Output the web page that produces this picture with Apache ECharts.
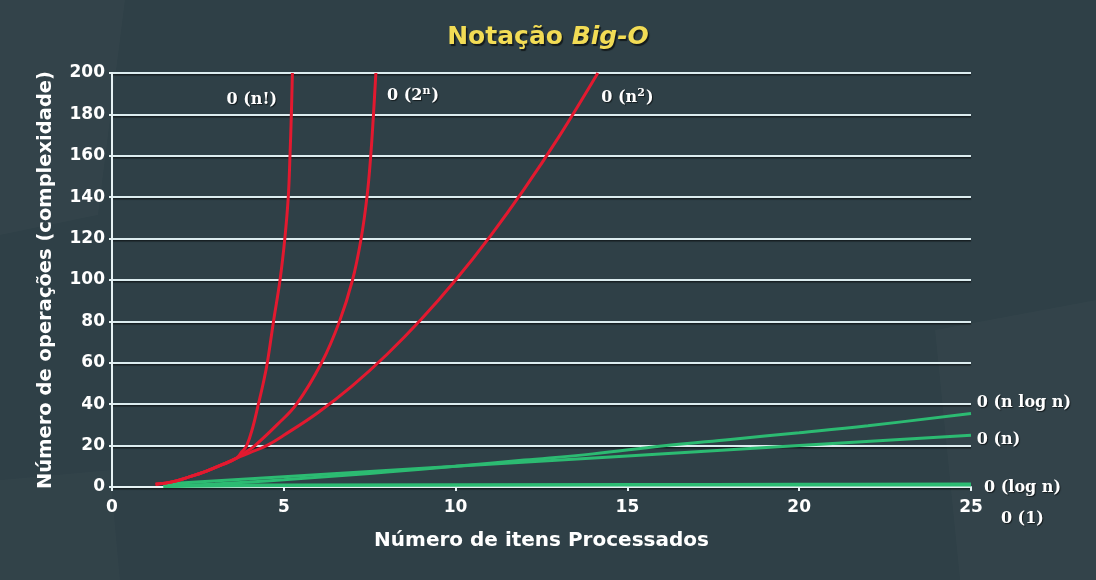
<!DOCTYPE html>
<html>
<head>
<meta charset="utf-8">
<script src="https://cdn.jsdelivr.net/npm/echarts@6/dist/echarts.min.js"></script>
<style>
html,body{margin:0;padding:0;background:#2f4047;}
#c{width:1096px;height:580px;}
</style>
</head>
<body>
<div id="c"></div>
<script>
// ---- data ----
const xTickLabels = ['0', '5', '10', '15', '20', '25'];
const yTickLabels = ['0', '20', '40', '60', '80', '100', '120', '140', '160', '180', '200'];

const factX = [1.27, 1.78, 2.27, 2.75, 3.24, 3.63, 3.78, 3.92, 4.10, 4.26, 4.40, 4.52, 4.70, 4.89, 5.03, 5.13, 5.18, 5.22, 5.25];
const factY = [1.3, 2.6, 5, 7.7, 11, 14, 17, 20, 29, 40, 50, 60, 80, 100, 120, 140, 160, 180, 200];

const expX = [1.27, 1.78, 2.27, 2.75, 3.24, 3.63, 3.90, 4.16, 4.80, 5.37, 6.10, 6.62, 7.00, 7.25, 7.42, 7.53, 7.61, 7.68];
const expY = [1.3, 2.6, 5, 7.7, 11, 14, 17, 20, 30, 40, 60, 80, 100, 120, 140, 160, 180, 200];

const sqX = [1.27, 1.78, 2.27, 2.75, 3.24, 3.63, 4.0, 4.5, 5, 6, 7, 8, 9, 10, 11, 12, 13, 14.14];
const sqY = [1.3, 2.6, 5, 7.7, 11, 14, 16.5, 20, 25, 36, 49, 64, 81, 100, 121, 144, 169, 200];

const nlognX = [1.5, 2, 3, 4, 5, 6, 7, 8, 10, 12, 14, 16, 18, 20, 22, 25];
const nlognY = [0.3, 0.6, 1.4, 2.4, 3.5, 4.7, 5.9, 7.2, 10, 13, 16, 19.8, 23, 26.2, 29.6, 35.5];

const linX = [1.5, 5, 10, 15, 20, 25];
const linY = [1.5, 5, 10, 15, 20, 25];

const logX = [1.5, 5, 10, 15, 20, 25];
const logY = [0.2, 0.7, 1.0, 1.2, 1.3, 1.4];

const constX = [1.5, 25];
const constY = [1, 1];

// rich-text labels: {s|...} marks a superscript
const seriesLabels = ['0 (n!)', '0 (2{s|n})', '0 (n{s|2})', '0 (n log n)', '0 (n)', '0 (log n)', '0 (1)'];

// ---- chart ----
const pairs = (xs, ys) => xs.map((x, i) => [x, ys[i]]);
const RED = '#e3192f';
const GREEN = '#2cbb72';

const chart = echarts.init(document.getElementById('c'), null, { renderer: 'canvas' });

function lineSeries(name, xs, ys, color, smooth, width) {
  return {
    name: name,
    type: 'line',
    data: pairs(xs, ys),
    showSymbol: false,
    symbol: 'none',
    smooth: smooth ? 0.4 : false,
    clip: true,
    lineStyle: { color: color, width: width },
    itemStyle: { color: color },
    silent: true
  };
}

const option = {
  backgroundColor: '#2f4047',
  animation: false,
  title: {
    text: '{a|Notação }{b|Big-O}',
    left: 'center',
    top: 20,
    textStyle: {
      rich: {
        a: { fontFamily: 'DejaVu Sans', fontWeight: 'bold', fontSize: 25, color: '#f2dc55',
             textShadowColor: 'rgba(0,0,0,0.6)', textShadowOffsetX: 1.5, textShadowOffsetY: 1.5, textShadowBlur: 1 },
        b: { fontFamily: 'DejaVu Sans', fontWeight: 'bold', fontStyle: 'italic', fontSize: 25, color: '#f2dc55',
             textShadowColor: 'rgba(0,0,0,0.6)', textShadowOffsetX: 1.5, textShadowOffsetY: 1.5, textShadowBlur: 1 }
      }
    }
  },
  grid: { left: 112, right: 125, top: 73, bottom: 93, containLabel: false },
  xAxis: {
    type: 'value',
    min: 0, max: 25, interval: 5,
    name: 'Número de itens Processados',
    nameLocation: 'middle',
    nameGap: 44,
    nameTextStyle: { color: '#ffffff', fontFamily: 'DejaVu Sans', fontWeight: 'bold', fontSize: 20 },
    axisLine: { show: true, lineStyle: { color: '#e6f2f4', width: 2 } },
    axisTick: { show: true, length: 4, inside: false, lineStyle: { color: '#e6f2f4', width: 2 } },
    axisLabel: {
      color: '#ffffff', fontFamily: 'DejaVu Sans', fontWeight: 'bold', fontSize: 17, margin: 12,
      formatter: (v) => xTickLabels[Math.round(v / 5)]
    },
    splitLine: { show: false }
  },
  yAxis: {
    type: 'value',
    min: 0, max: 200, interval: 20,
    name: 'Número de operações (complexidade)',
    nameLocation: 'middle',
    nameGap: 56,
    nameTextStyle: { color: '#ffffff', fontFamily: 'DejaVu Sans', fontWeight: 'bold', fontSize: 19.5 },
    axisLine: { show: true, lineStyle: { color: '#e6f2f4', width: 2 } },
    axisTick: { show: true, length: 3, lineStyle: { color: '#e6f2f4', width: 2 } },
    axisLabel: {
      color: '#ffffff', fontFamily: 'DejaVu Sans', fontWeight: 'bold', fontSize: 17, margin: 7,
      formatter: (v) => yTickLabels[Math.round(v / 20)]
    },
    splitLine: {
      show: true,
      lineStyle: { color: '#dcecef', width: 2, shadowColor: 'rgba(0,0,0,0.55)', shadowOffsetY: 1.5, shadowBlur: 1 }
    }
  },
  series: [
    lineSeries('const', constX, constY, GREEN, false, 3),
    lineSeries('log', logX, logY, GREEN, true, 3),
    lineSeries('lin', linX, linY, GREEN, false, 3),
    lineSeries('nlogn', nlognX, nlognY, GREEN, true, 3),
    lineSeries('sq', sqX, sqY, RED, true, 3),
    lineSeries('exp', expX, expY, RED, true, 3),
    lineSeries('fact', factX, factY, RED, true, 3)
  ]
};

chart.setOption(option);

// series name labels, anchored in data space and converted through the chart's scales
const anchors = [
  { at: [4.07, 187], align: 'center' },
  { at: [8.76, 189], align: 'center' },
  { at: [15.0, 188], align: 'center' },
  { at: [25.17, 40.6], align: 'left' },
  { at: [25.17, 22.7], align: 'left' },
  { at: [25.38, -0.5], align: 'left' },
  { at: [25.87, -15.5], align: 'left' }
];

const graphics = [
  { type: 'polygon', silent: true, z: -10, shape: { points: [[0, 0], [125, 0], [98, 215], [0, 235]] },
    style: { fill: 'rgba(255,255,255,0.02)' } },
  { type: 'polygon', silent: true, z: -10, shape: { points: [[935, 330], [1096, 300], [1096, 580], [960, 580]] },
    style: { fill: 'rgba(255,255,255,0.02)' } },
  { type: 'polygon', silent: true, z: -10, shape: { points: [[0, 480], [110, 470], [120, 580], [0, 580]] },
    style: { fill: 'rgba(255,255,255,0.015)' } }
];

const shadow = { textShadowColor: 'rgba(0,0,0,0.6)', textShadowOffsetX: 1, textShadowOffsetY: 1, textShadowBlur: 1 };
anchors.forEach((a, i) => {
  const p = chart.convertToPixel({ gridIndex: 0 }, a.at);
  graphics.push({
    type: 'text',
    x: p[0], y: p[1],
    silent: true,
    z: 100,
    style: Object.assign({
      text: seriesLabels[i],
      fill: '#ffffff',
      font: 'bold 16px "DejaVu Serif"',
      lineHeight: 20,
      align: a.align,
      verticalAlign: 'middle',
      rich: {
        s: Object.assign({ fill: '#ffffff', font: 'bold 11px "DejaVu Serif"', verticalAlign: 'top', lineHeight: 20, padding: [0, 1, 0, 0] }, shadow)
      }
    }, shadow)
  });
});

chart.setOption({ graphic: graphics });
</script>
</body>
</html>
